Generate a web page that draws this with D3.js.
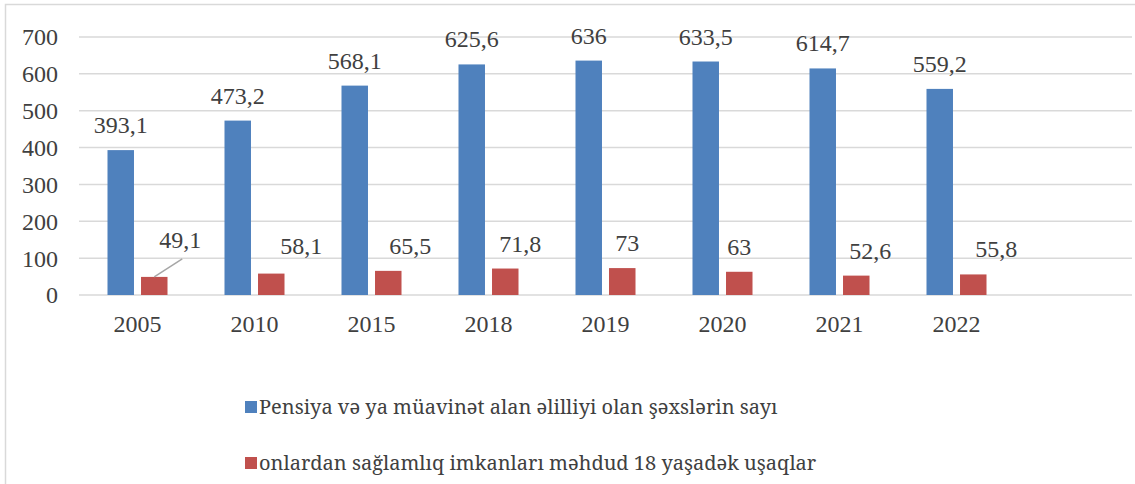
<!DOCTYPE html>
<html>
<head>
<meta charset="utf-8">
<script src="https://cdn.jsdelivr.net/npm/d3@7"></script>
<style>
  html, body { margin: 0; padding: 0; background: #fff; }
  svg { display: block; }
</style>
</head>
<body>
<svg id="chart" width="1135" height="484"></svg>
<script>
// data
const years = ["2005", "2010", "2015", "2018", "2019", "2020", "2021", "2022"];
const pensionCount = [393.1, 473.2, 568.1, 625.6, 636, 633.5, 614.7, 559.2];
const childCount = [49.1, 58.1, 65.5, 71.8, 73, 63, 52.6, 55.8];
const yTicks = [0, 100, 200, 300, 400, 500, 600, 700];
const seriesNames = [
  "Pensiya və ya müavinət alan əlilliyi olan şəxslərin sayı",
  "onlardan sağlamlıq imkanları məhdud 18 yaşadək uşaqlar"
];

// layout only: hand nudges of the red labels, as in the source
const childLabelDx = [26, 30, 22, 15, 5, 0, 14, 23];
const childLabelDy = [-12, -3, 0, 0, 0, 0, 0, 0];

const COLORS = ["#4f81bd", "#c0504d"];
const fmt = v => String(v).replace(".", ",");

const svg = d3.select("#chart");
const W = 1135, H = 484;
const plot = {left: 79, right: 1132, top: 37, bottom: 295};

// all text shares one look
function label(sel, size = 24, family = "Liberation Serif"){
  return sel.attr("fill", "#404040")
    .attr("font-family", family).attr("font-size", size);
}

// one spare empty slot on the right, like the source
const x = d3.scaleBand().domain([...years, "_"]).range([plot.left, plot.right]);
const xs = d3.scaleBand().domain([0, 1]).range([0, x.bandwidth()])
  .paddingInner(0.21).paddingOuter(0.85);
const y = d3.scaleLinear().domain([0, 700]).range([plot.bottom, plot.top]);

// chart frame (runs off the right/bottom edge in the picture)
svg.append("rect")
  .attr("x", 5.5).attr("y", 4.5).attr("width", W + 20).attr("height", H + 20)
  .attr("fill", "none").attr("stroke", "#d9d9d9").attr("stroke-width", 1.5);

// grid
svg.append("g").selectAll("line").data(yTicks).join("line")
  .attr("x1", plot.left).attr("x2", plot.right)
  .attr("y1", d => y(d)).attr("y2", d => y(d))
  .attr("stroke", "#d9d9d9").attr("stroke-width", 1.5);

// y labels
svg.append("g").selectAll("text").data(yTicks).join("text")
  .call(label)
  .attr("x", 58).attr("y", d => y(d)).attr("dy", "0.35em")
  .attr("text-anchor", "end")
  .text(d => d);

// x labels
svg.append("g").selectAll("text").data(years).join("text")
  .call(label)
  .attr("x", d => x(d) + x.bandwidth() / 2).attr("y", 332)
  .attr("text-anchor", "middle")
  .text(d => d);

const series = [pensionCount, childCount];
series.forEach((vals, si) => {
  svg.append("g").selectAll("rect").data(vals).join("rect")
    .attr("x", (d, i) => x(years[i]) + xs(si))
    .attr("width", xs.bandwidth())
    .attr("y", d => y(d))
    .attr("height", d => y(0) - y(d))
    .attr("fill", COLORS[si]);
});

// blue labels: centred above bars
svg.append("g").selectAll("text").data(pensionCount).join("text")
  .call(label)
  .attr("x", (d, i) => x(years[i]) + xs(0) + xs.bandwidth() / 2)
  .attr("y", d => y(d) - 17)
  .attr("text-anchor", "middle")
  .text(fmt);

// red labels: moved to the right by hand
const cx = i => x(years[i]) + xs(1) + xs.bandwidth() / 2;
svg.append("g").selectAll("text").data(childCount).join("text")
  .call(label)
  .attr("x", (d, i) => cx(i) + childLabelDx[i])
  .attr("y", (d, i) => y(d) - 17 + childLabelDy[i])
  .attr("text-anchor", "middle")
  .text(fmt);

// leader line for the first red label
svg.append("line")
  .attr("x1", cx(0)).attr("y1", y(childCount[0]))
  .attr("x2", cx(0) + 28).attr("y2", y(childCount[0]) - 18)
  .attr("stroke", "#a6a6a6").attr("stroke-width", 1.5);

// legend (Noto Serif carries all the Azerbaijani letters)
const leg = svg.append("g").selectAll("g").data(seriesNames).join("g")
  .attr("transform", (d, i) => `translate(245, ${401 + i * 56})`);
leg.append("rect").attr("width", 12).attr("height", 12)
  .attr("fill", (d, i) => COLORS[i]);
leg.append("text").call(label, 20, "Noto Serif")
  .attr("x", 14).attr("y", 13)
  .text(d => d);
</script>
</body>
</html>
